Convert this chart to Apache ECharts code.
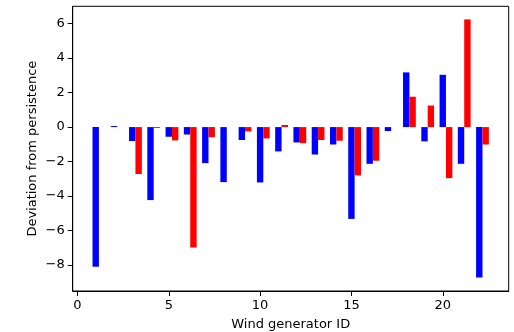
<!DOCTYPE html>
<html><head><meta charset="utf-8">
<script src="https://cdn.jsdelivr.net/npm/echarts@6/dist/echarts.min.js"></script>
<style>html,body{margin:0;padding:0;background:#fff}#c{width:514px;height:332px}</style>
</head><body><div id="c"></div>
<script>
const ids = [1,2,3,4,5,6,7,8,9,10,11,12,13,14,15,16,17,18,19,20,21,22];
const blueVals = [-8.10,0.06,-0.81,-4.23,-0.56,-0.43,-2.09,-3.19,-0.75,-3.21,-1.41,-0.89,-1.59,-1.01,-5.32,-2.13,-0.23,3.17,-0.83,3.03,-2.13,-8.72];
const redVals  = [0,0,-2.72,-0.05,-0.77,-6.98,-0.59,0,-0.25,-0.66,0.12,-0.93,-0.75,-0.79,-2.80,-1.95,0,1.76,1.25,-2.96,6.24,-1.01];
const xTicks = [0,5,10,15,20];
const yTicks = [-8,-6,-4,-2,0,2,4,6];
const barW = 0.35;

function mk(vals, off, color){
  return {
    type:'custom',
    data: ids.map((id,i)=>[id+off, vals[i]]),
    renderItem:function(params, api){
      const x = api.value(0), v = api.value(1);
      const p1 = api.coord([x-barW/2, Math.max(v,0)]);
      const p2 = api.coord([x+barW/2, Math.min(v,0)]);
      return {type:'rect', shape:{x:p1[0], y:p1[1], width:p2[0]-p1[0], height:p2[1]-p1[1]}, style:{fill:color}};
    },
    encode:{x:0,y:1}
  };
}
const fmt = v => String(v).replace('-', '\u2212');
const font = {fontFamily:'DejaVu Sans', fontSize:13, color:'#000'};
const chart = echarts.init(document.getElementById('c'), null, {renderer:'canvas'});
chart.setOption({
  animation:false,
  grid:{left:72.7, right:5.3, top:6.3, bottom:41, outerBoundsMode:'none', containLabel:false, show:true, borderColor:'#000', borderWidth:1, backgroundColor:'#fff'},
  xAxis:{type:'value', min:-0.26, max:23.61,
    name:'Wind generator ID', nameLocation:'middle', nameGap:27, nameMoveOverlap:false,
    nameTextStyle:font,
    axisLine:{show:true, onZero:false, lineStyle:{color:'#000', width:1}},
    axisTick:{show:true, length:5, lineStyle:{color:'#000'}, customValues:xTicks},
    axisLabel:Object.assign({margin:8, customValues:xTicks, formatter:fmt}, font),
    splitLine:{show:false}},
  yAxis:{type:'value', min:-9.5, max:7.0,
    name:'Deviation from persistence', nameLocation:'middle', nameGap:34, nameMoveOverlap:false,
    nameTextStyle:font,
    axisLine:{show:true, onZero:false, lineStyle:{color:'#000', width:1}},
    axisTick:{show:true, length:5, lineStyle:{color:'#000'}, customValues:yTicks},
    axisLabel:Object.assign({margin:8, customValues:yTicks, formatter:fmt}, font),
    splitLine:{show:false}},
  series:[mk(blueVals,0,'#0000ff'), mk(redVals,barW,'#ff0000')]
});
</script></body></html>
